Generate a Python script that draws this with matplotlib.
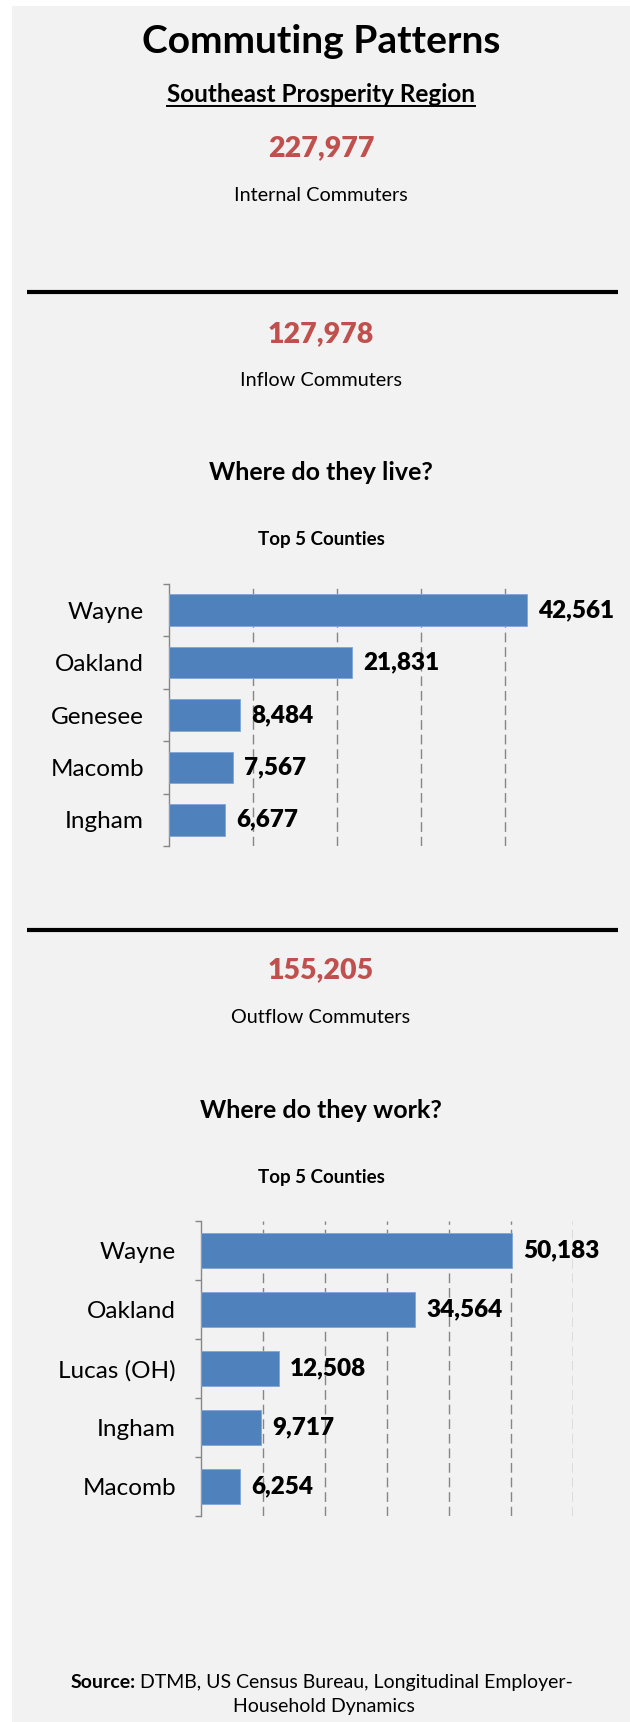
import matplotlib
matplotlib.use('Agg')
import matplotlib.pyplot as plt
from matplotlib.patches import Rectangle
from matplotlib.lines import Line2D

plt.rcParams['font.family'] = ['Lato', 'DejaVu Sans']

W, H = 630, 1722

# headline numbers
internal_total = 227977
inflow_total = 127978
outflow_total = 155205

# where inflow commuters live
live_counties = ['Wayne', 'Oakland', 'Genesee', 'Macomb', 'Ingham']
live_counts = [42561, 21831, 8484, 7567, 6677]

# where outflow commuters work
work_counties = ['Wayne', 'Oakland', 'Lucas (OH)', 'Ingham', 'Macomb']
work_counts = [50183, 34564, 12508, 9717, 6254]

BG = '#F2F2F2'
RED = '#C0504D'
BLUE = '#4F81BD'
GREY = '#868686'


def fx(x):
    return x / W


def fy(y):
    return 1 - y / H


fig = plt.figure(figsize=(W / 100, H / 100), dpi=100)
fig.patch.set_facecolor('white')
fig.patches.append(Rectangle((fx(12), 0), 1, fy(6), transform=fig.transFigure,
                             facecolor=BG, edgecolor='none', zorder=-10))


def centered(y, s, size, **kw):
    return fig.text(fx(321), fy(y), s, fontsize=size, ha='center', va='baseline', **kw)


def rule(y):
    fig.add_artist(Line2D([fx(27), fx(618)], [fy(y), fy(y)], color='black', lw=3,
                          transform=fig.transFigure, solid_capstyle='butt'))


def bar_chart(rect, names, counts, xmax, grid_ticks):
    ax = fig.add_axes(rect)
    ax.set_facecolor('none')
    pos = list(range(len(names)))
    ax.barh(pos, counts, height=0.6, color=BLUE, edgecolor='#7FA7D9', linewidth=0.6, zorder=3)
    ax.set_xlim(0, xmax)
    ax.set_ylim(len(names) - 0.5, -0.5)
    ax.set_xticks(grid_ticks)
    ax.xaxis.grid(True, linestyle=(0, (7, 3.5)), color=GREY, lw=1.0)
    ax.tick_params(axis='x', length=0, labelbottom=False)
    ax.set_yticks(pos)
    ax.set_yticklabels(names, fontsize=17.5)
    ax.tick_params(axis='y', which='major', length=0, pad=18)
    ax.set_yticks([p - 0.5 for p in range(len(names) + 1)], minor=True)
    ax.tick_params(axis='y', which='minor', length=4.5, width=1.0, color=GREY, direction='out')
    for side in ['top', 'right', 'bottom']:
        ax.spines[side].set_visible(False)
    ax.spines['left'].set_color(GREY)
    ax.spines['left'].set_linewidth(1.0)
    for p, v in zip(pos, counts):
        ax.annotate('{:,}'.format(v), (v, p), xytext=(8, 0), textcoords='offset points',
                    ha='left', va='center', fontsize=17.5, fontweight='heavy')
    return ax


# header
centered(53, 'Commuting Patterns', 28, fontweight='bold')
sub = centered(102, 'Southeast Prosperity Region', 17.5, fontweight='bold')
centered(156, '{:,}'.format(internal_total), 20.5, fontweight='heavy', color=RED)
centered(201, 'Internal Commuters', 14.3)

# inflow section
rule(292)
centered(342, '{:,}'.format(inflow_total), 20.5, fontweight='heavy', color=RED)
centered(386, 'Inflow Commuters', 14.3)
centered(480, 'Where do they live?', 18, fontweight='bold')
centered(545, 'Top 5 Counties', 13.5, fontweight='bold')
bar_chart([fx(169), fy(846), fx(589) - fx(169), (846 - 584) / H],
          live_counties, live_counts, 50000, [10000, 20000, 30000, 40000])

# outflow section
rule(930)
centered(978, '{:,}'.format(outflow_total), 20.5, fontweight='heavy', color=RED)
centered(1023, 'Outflow Commuters', 14.3)
centered(1118, 'Where do they work?', 18, fontweight='bold')
centered(1183, 'Top 5 Counties', 13.5, fontweight='bold')
bar_chart([fx(201), fy(1516), fx(573) - fx(201), (1516 - 1221) / H],
          work_counties, work_counts, 60000, [10000, 20000, 30000, 40000, 50000, 60000])

# underline for the region name and the source note
renderer = fig.canvas.get_renderer()
bb = sub.get_window_extent(renderer)
fig.add_artist(Line2D([bb.x0 / W, bb.x1 / W], [fy(106), fy(106)], color='black', lw=1.4,
                      transform=fig.transFigure))

src_bold = fig.text(fx(71), fy(1688), 'Source:', fontsize=14, fontweight='bold', va='baseline')
bb = src_bold.get_window_extent(renderer)
fig.text(bb.x1 / W + fx(4), fy(1688),
         'DTMB, US Census Bureau, Longitudinal Employer-', fontsize=14, va='baseline')
fig.text(fx(324), fy(1712), 'Household Dynamics', fontsize=14, ha='center', va='baseline')

fig.savefig('out.png', dpi=100, facecolor=fig.get_facecolor())
